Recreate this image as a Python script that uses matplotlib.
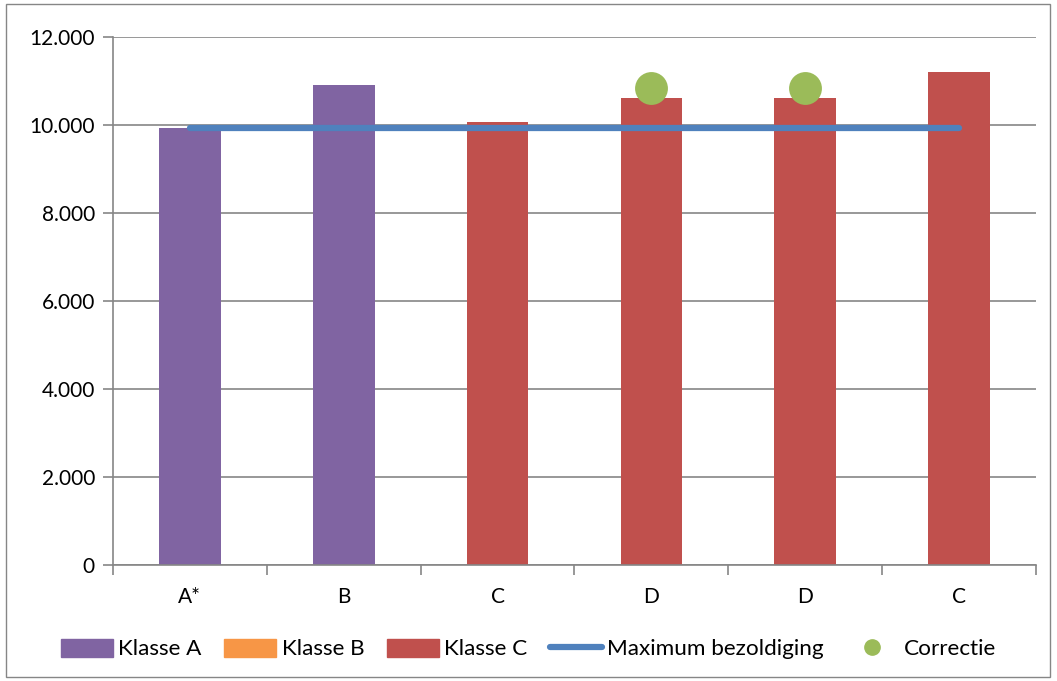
import matplotlib
matplotlib.use("Agg")
import matplotlib.pyplot as plt
from matplotlib.patches import Patch, Rectangle
from matplotlib.lines import Line2D
import numpy as np

categories = ["A*", "B", "C", "D", "D", "C"]
values = [9930, 10900, 10070, 10620, 10620, 11200]
klasse = ["A", "A", "C", "C", "C", "C"]
max_bezoldiging = [9925, 9925, 9925, 9925, 9925, 9925]
correctie = [None, None, None, 10830, 10830, None]
yticks = [0, 2000, 4000, 6000, 8000, 10000, 12000]
ytick_labels = ["0", "2.000", "4.000", "6.000", "8.000", "10.000", "12.000"]

colors = {"A": "#8064A2", "B": "#F79646", "C": "#C0504D"}
line_color = "#4F81BD"
dot_color = "#9BBB59"
grid_color = "#868686"

plt.rcParams["font.family"] = ["Lato", "DejaVu Sans"]

fig = plt.figure(figsize=(10.57, 6.81), dpi=100)
fig.patches.append(Rectangle((6/1057, 4/681), 1044/1057, 673/681, transform=fig.transFigure,
                             fill=False, edgecolor=grid_color, linewidth=1.0))
ax = fig.add_axes([113/1057, 1 - 565/681, (1036 - 113)/1057, (565 - 37)/681])

x = np.arange(len(categories))
ax.bar(x, values, width=0.4, color=[colors[k] for k in klasse], zorder=2)
ax.plot(x, max_bezoldiging, color=line_color, linewidth=4.5, solid_capstyle="round", zorder=3)
cx = [xi for xi, c in zip(x, correctie) if c is not None]
cy = [c for c in correctie if c is not None]
ax.scatter(cx, cy, s=560, color=dot_color, zorder=4, linewidths=0)

ax.set_xlim(-0.5, len(categories) - 0.5)
ax.set_ylim(0, 12000)
ax.set_yticks(yticks)
ax.set_yticklabels(ytick_labels)
ax.yaxis.grid(True, color=grid_color, linewidth=1.2, zorder=0)
ax.set_axisbelow(True)

ax.set_xticks(x)
ax.set_xticklabels(categories)
ax.set_xticks(np.arange(-0.5, len(categories)), minor=True)
ax.tick_params(axis="x", which="major", length=0, pad=16, labelsize=15)
ax.tick_params(axis="x", which="minor", length=7, width=1.2, color=grid_color)
ax.tick_params(axis="y", length=7, width=1.2, color=grid_color, labelsize=15, pad=6)

for s in ["top", "right"]:
    ax.spines[s].set_visible(False)
for s in ["left", "bottom"]:
    ax.spines[s].set_color(grid_color)
    ax.spines[s].set_linewidth(1.2)

handles = [
    Patch(color=colors["A"], label="Klasse A"),
    Patch(color=colors["B"], label="Klasse B"),
    Patch(color=colors["C"], label="Klasse C"),
    Line2D([0], [0], color=line_color, linewidth=4.5, solid_capstyle="round", label="Maximum bezoldiging"),
    Line2D([0], [0], color=dot_color, marker="o", linestyle="none", markersize=11, label="Correctie"),
]
fig.legend(handles=handles, loc="center", bbox_to_anchor=(0.5, 1 - 649/681), ncol=5, frameon=False,
           fontsize=16.2, handlelength=2.3, handleheight=0.85, handletextpad=0.25, columnspacing=1.0)

fig.savefig("out.png", dpi=100)
